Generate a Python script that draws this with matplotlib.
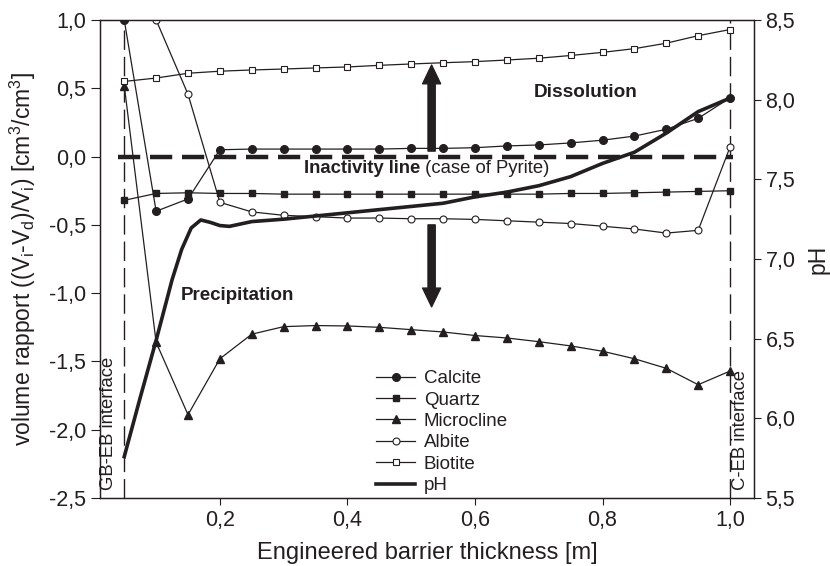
import matplotlib
matplotlib.use('Agg')
import numpy as np
import matplotlib.pyplot as plt
from matplotlib.ticker import FuncFormatter

plt.rcParams['font.family'] = ['Liberation Sans', 'DejaVu Sans']

# data
x = [0.05, 0.10, 0.15, 0.20, 0.25, 0.30, 0.35, 0.40, 0.45, 0.50,
     0.55, 0.60, 0.65, 0.70, 0.75, 0.80, 0.85, 0.90, 0.95, 1.00]

calcite = [1.0, -0.40, -0.31, 0.05, 0.055, 0.055, 0.055, 0.055, 0.055, 0.06,
           0.06, 0.065, 0.078, 0.085, 0.10, 0.12, 0.15, 0.20, 0.28, 0.43]
quartz = [-0.32, -0.27, -0.265, -0.27, -0.27, -0.275, -0.275, -0.275, -0.275, -0.275,
          -0.275, -0.275, -0.275, -0.275, -0.27, -0.27, -0.265, -0.26, -0.255, -0.25]
microcline = [0.52, -1.36, -1.89, -1.48, -1.30, -1.245, -1.237, -1.24, -1.25, -1.267,
              -1.284, -1.31, -1.328, -1.355, -1.386, -1.425, -1.48, -1.55, -1.67, -1.57]
albite = [np.nan, 1.0, 0.456, -0.335, -0.405, -0.43, -0.44, -0.45, -0.45, -0.455,
          -0.455, -0.46, -0.47, -0.48, -0.49, -0.51, -0.53, -0.56, -0.54, 0.07]
biotite = [0.55, 0.575, 0.61, 0.625, 0.634, 0.641, 0.649, 0.656, 0.668, 0.678,
           0.687, 0.695, 0.707, 0.72, 0.74, 0.763, 0.79, 0.83, 0.885, 0.93]

ph_x = [0.05, 0.075, 0.10, 0.125, 0.14, 0.155, 0.17, 0.185, 0.20, 0.215, 0.25,
        0.30, 0.35, 0.40, 0.45, 0.50, 0.55, 0.60, 0.65, 0.70, 0.75, 0.80,
        0.85, 0.90, 0.95, 1.00]
ph = [5.76, 6.13, 6.49, 6.87, 7.06, 7.195, 7.245, 7.23, 7.21, 7.205, 7.235,
      7.25, 7.27, 7.29, 7.31, 7.33, 7.35, 7.39, 7.42, 7.46, 7.517, 7.60,
      7.67, 7.79, 7.925, 8.01]

interfaces = [0.05, 1.0]
inactivity_level = 0.0
inactivity_span = (0.04, 1.005)

col = '#231f20'

fig = plt.figure(figsize=(8.3, 5.66), dpi=100)
ax = fig.add_axes([0.1205, 0.12, 0.7875, 0.8447])
ax2 = ax.twinx()

for xi in interfaces:
    ax.axvline(xi, color=col, lw=1.0, dashes=(14, 5), zorder=1)

ax.hlines(inactivity_level, inactivity_span[0], inactivity_span[1], color=col,
          lw=3.2, linestyles=(0, (5, 2.2)), zorder=2)

kw = dict(color=col, lw=0.9, zorder=3)
h1, = ax.plot(x, calcite, marker='o', ms=5.5, mfc=col, mec=col, label='Calcite', **kw)
h2, = ax.plot(x, quartz, marker='s', ms=5, mfc=col, mec=col, label='Quartz', **kw)
h3, = ax.plot(x, microcline, marker='^', ms=5.5, mfc=col, mec=col, label='Microcline', **kw)
h4, = ax.plot(x, albite, marker='o', ms=5, mfc='white', mec=col, mew=0.8, label='Albite', **kw)
h5, = ax.plot(x, biotite, marker='s', ms=4.5, mfc='white', mec=col, mew=0.8, label='Biotite', **kw)
h6, = ax2.plot(ph_x, ph, color=col, lw=2.6, label='pH')

ax.set_xlim(0.012, 1.037)
ax.set_ylim(-2.5, 1.0)
ax2.set_ylim(5.5, 8.5)

comma = FuncFormatter(lambda v, p: ('%.1f' % v).replace('.', ','))
ax.set_xticks([0.2, 0.4, 0.6, 0.8, 1.0])
ax.set_yticks(np.arange(-2.5, 1.01, 0.5))
ax2.set_yticks(np.arange(5.5, 8.51, 0.5))
for a in (ax, ax2):
    a.xaxis.set_major_formatter(comma)
    a.yaxis.set_major_formatter(comma)
    a.tick_params(labelsize=15.5, color=col, labelcolor=col, length=5, width=0.8)
    for s in a.spines.values():
        s.set_color(col)
        s.set_linewidth(0.9)
ax.tick_params(axis='y', length=6.5)

ax.set_xlabel('Engineered barrier thickness [m]', fontsize=17, color=col, labelpad=8)
ax.set_ylabel('volume rapport ((V$_\\mathregular{i}$-V$_\\mathregular{d}$)/V$_\\mathregular{i}$) [cm$^\\mathregular{3}$/cm$^\\mathregular{3}$]',
              fontsize=16.5, color=col, labelpad=8)
ax2.set_ylabel('pH', fontsize=16.5, color=col, labelpad=8)

# arrows for dissolution / precipitation
arr = dict(width=5.2, headwidth=13, headlength=13.5, color=col, shrink=0)
ax.annotate('', xy=(0.532, 0.67), xytext=(0.532, 0.04), arrowprops=arr, zorder=4)
ax.annotate('', xy=(0.532, -1.10), xytext=(0.532, -0.50), arrowprops=arr, zorder=4)

ax.text(0.774, 0.47, 'Dissolution', fontsize=13.7, fontweight='bold', color=col,
        ha='center', va='center')
ax.text(0.2275, -1.02, 'Precipitation', fontsize=13.5, fontweight='bold', color=col,
        ha='center', va='center')
t1 = ax.text(0.332, -0.09, 'Inactivity line', fontsize=13.3, fontweight='bold', color=col,
             ha='left', va='center')
ax.annotate(' (case of Pyrite)', xy=(1, 0.5), xycoords=t1, fontsize=13.3, color=col,
            ha='left', va='center')

ax.text(0.025, -2.44, 'GB-EB interface', rotation=90, fontsize=13.3, color=col,
        ha='center', va='bottom')
ax.text(1.017, -2.44, 'C-EB interface', rotation=90, fontsize=13.3, color=col,
        ha='center', va='bottom')

ax.legend(handles=[h1, h2, h3, h4, h5, h6], loc='upper left', bbox_to_anchor=(0.422, 0.268),
          frameon=False, fontsize=13.5, labelspacing=0.23, handlelength=2.1,
          handletextpad=0.45, borderpad=0, borderaxespad=0, labelcolor=col)

fig.savefig('out.png', dpi=100)
